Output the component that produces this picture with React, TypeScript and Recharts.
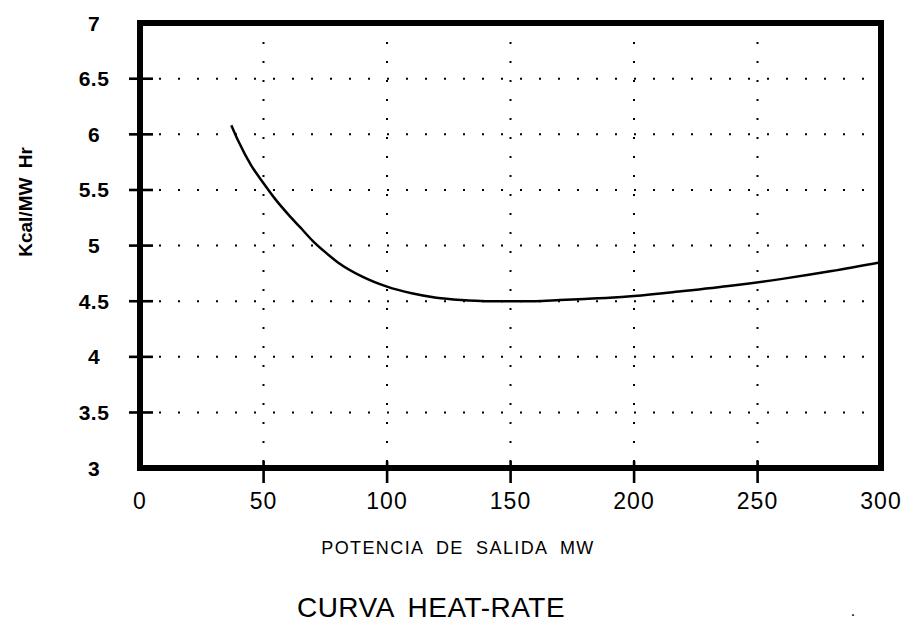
import { LineChart, Line, XAxis, YAxis, CartesianGrid, ReferenceArea, Label } from 'recharts';

// heat rate curve
const potencia = [37, 40, 45, 50, 55, 60, 65, 70, 75, 80, 90, 100, 110, 120, 130, 140, 150, 160, 170, 180, 190, 200, 220, 240, 260, 280, 300];
const heatRate = [6.08, 5.93, 5.72, 5.56, 5.41, 5.28, 5.16, 5.04, 4.94, 4.85, 4.72, 4.63, 4.57, 4.53, 4.51, 4.5, 4.5, 4.5, 4.51, 4.52, 4.53, 4.545, 4.59, 4.64, 4.7, 4.77, 4.85];

const xTicks = [0, 50, 100, 150, 200, 250, 300];
const yTicks = [3, 3.5, 4, 4.5, 5, 5.5, 6, 6.5, 7];

const data = potencia.map((p, i) => ({ p, hr: heatRate[i] }));

const FONT = '"Liberation Sans", Arial, sans-serif';

function YTick(props: any) {
  const { y, payload } = props;
  // corners (3 and 7) carry no tick mark
  const mark = Math.abs(y - 245.5) < 200 ? 24 : 0;
  return (
    <g>
      <rect x={129} y={y - 1.2} width={mark} height={2.6} fill="#000" />
      <text x={94} y={y + 7.5} textAnchor="middle" fontFamily={FONT} fontWeight="bold" fontSize={21} letterSpacing={0.5} fill="#000">
        {String(payload.value)}
      </text>
    </g>
  );
}

function XTick(props: any) {
  const { x, payload } = props;
  const mark = Math.abs(x - 510.5) < 350 ? 22 : 0;
  return (
    <g>
      <rect x={x - 1.2} y={461} width={2.6} height={mark} fill="#000" />
      <text x={x} y={509} textAnchor="middle" fontFamily={FONT} fontSize={23} letterSpacing={1} fill="#000">
        {String(payload.value)}
      </text>
    </g>
  );
}

function XTitles() {
  return (
    <g>
      <text x={458} y={554} textAnchor="middle" fontFamily={FONT} fontSize={18} letterSpacing={1.4} wordSpacing={6} fill="#000">
        POTENCIA DE SALIDA MW
      </text>
      <text x={431} y={617} textAnchor="middle" fontFamily={FONT} fontSize={28} letterSpacing={0.5} wordSpacing={6} fill="#000">
        CURVA HEAT-RATE
      </text>
      <text x={853} y={616} textAnchor="middle" fontFamily={FONT} fontSize={16} fill="#000">
        .
      </text>
    </g>
  );
}

function YTitle() {
  return (
    <text
      transform="translate(32, 202) rotate(-90)"
      textAnchor="middle"
      fontFamily={FONT}
      fontWeight="bold"
      fontSize={19}
      wordSpacing={4}
      fill="#000"
    >
      Kcal/MW Hr
    </text>
  );
}

export default function App() {
  return (
    <div style={{ position: 'absolute', left: 0, top: 0, width: 904, height: 625, background: '#fff' }}>
      <LineChart width={904} height={625} data={data} margin={{ top: 23, right: 23, bottom: 97, left: 0 }}>
        <CartesianGrid stroke="#000" strokeWidth={2} strokeDasharray="2 17" />
        <XAxis
          dataKey="p"
          type="number"
          domain={[0, 300]}
          ticks={xTicks}
          height={60}
          axisLine={false}
          tickLine={false}
          tick={<XTick />}
          interval={0}
          allowDataOverflow
        >
          <Label content={<XTitles />} />
        </XAxis>
        <YAxis
          type="number"
          domain={[3, 7]}
          ticks={yTicks}
          width={140}
          axisLine={false}
          tickLine={false}
          tick={<YTick />}
          interval={0}
          allowDataOverflow
        >
          <Label content={<YTitle />} />
        </YAxis>
        <ReferenceArea x1={0} x2={300} y1={3} y2={7} fill="none" fillOpacity={0} stroke="#000" strokeWidth={6} />
        <Line
          type="monotone"
          dataKey="hr"
          stroke="#000"
          strokeWidth={2.5}
          dot={false}
          isAnimationActive={false}
        />
      </LineChart>
    </div>
  );
}
